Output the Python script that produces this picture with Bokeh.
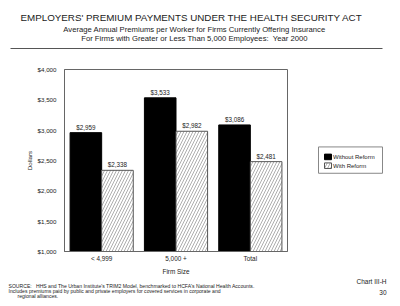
from bokeh.plotting import figure
from bokeh.layouts import column, row
from bokeh.models import (ColumnDataSource, FactorRange, NumeralTickFormatter, FixedTicker,
                          Range1d)
from bokeh.transform import dodge
from bokeh.embed import file_html
from bokeh.resources import INLINE
from bokeh.core.properties import value

# --- data -------------------------------------------------------------
firm_sizes = ["< 4,999", "5,000 +", "Total"]
without_reform = [2959, 3533, 3086]
with_reform = [2338, 2982, 2481]
y_ticks = [1000, 1500, 2000, 2500, 3000, 3500, 4000]
series_names = ["Without Reform", "With Reform"]

title = "EMPLOYERS' PREMIUM PAYMENTS UNDER THE HEALTH SECURITY ACT"
subtitles = ["Average Annual Premiums per Worker for Firms Currently Offering Insurance",
             "For Firms with Greater or Less Than 5,000 Employees:\u00a0 Year 2000"]
source_lines = ["SOURCE:\u00a0\u00a0 HHS and The Urban Institute's TRIM2 Model, benchmarked to HCFA's National Health Accounts.",
                "Includes premiums paid by public and private employers for covered services in corporate and",
                "regional alliances."]
chart_id = "Chart III-H"
page_no = "30"

FONT = "Liberation Sans"
INK = "#222222"
W = 400
HEADER_H, MAIN_H, FOOTER_H = 50, 228, 28
MAIN_W = 300

BLACK_STYLE = dict(fill_color="black", line_color="black")
HATCH_STYLE = dict(fill_color="white", line_color="#555555",
                   hatch_pattern="/", hatch_color="#777777", hatch_weight=0.6, hatch_scale=6)


def money(v):
    return "${:,}".format(v)


def canvas(w, h):
    """A bare figure whose data units are pixels (y grows downward)."""
    f = figure(width=w, height=h, x_range=Range1d(0, w), y_range=Range1d(h, 0),
               output_backend="svg", toolbar_location=None,
               x_axis_location=None, y_axis_location=None, min_border=0)
    f.outline_line_color = None
    f.background_fill_color = "white"
    f.border_fill_color = "white"
    f.grid.visible = False
    return f


def put_text(f, x, y, text, size, align="left", style="normal"):
    f.text(x=[x], y=[y], text=[text], text_font=value(FONT), text_font_size=size,
           text_align=align, text_baseline="middle", text_font_style=style, text_color=INK)


# --- header -----------------------------------------------------------
header = canvas(W, HEADER_H)
put_text(header, 191, 17, title, "9.8px", "center")
put_text(header, 194, 29, subtitles[0], "7.7px", "center")
put_text(header, 194, 37.5, subtitles[1], "7.7px", "center")
header.segment(x0=[10], y0=[48], x1=[382], y1=[48], line_color="#555555", line_width=1)

# --- main chart -------------------------------------------------------
src = ColumnDataSource(dict(
    cat=firm_sizes,
    without=without_reform,
    withr=with_reform,
    without_lbl=[money(v) for v in without_reform],
    with_lbl=[money(v) for v in with_reform],
))

p = figure(width=MAIN_W, height=MAIN_H, x_range=FactorRange(*firm_sizes), y_range=(1000, 4000),
           output_backend="svg", toolbar_location=None,
           min_border_left=64, min_border_right=13, min_border_top=19, min_border_bottom=27)
p.background_fill_color = "white"
p.border_fill_color = "white"
p.outline_line_color = "#666666"
p.xgrid.grid_line_color = None
p.ygrid.grid_line_color = None

bw = 0.425
off = bw / 2
p.vbar(x=dodge("cat", -off, range=p.x_range), top="without", bottom=1000, width=bw,
       source=src, line_width=1, **BLACK_STYLE)
p.vbar(x=dodge("cat", off, range=p.x_range), top="withr", bottom=1000, width=bw,
       source=src, line_width=1, **HATCH_STYLE)

lbl_kw = dict(text_font=value(FONT), text_font_size="6.3px", text_align="center",
              text_baseline="bottom", text_color=INK, y_offset=-2, source=src)
p.text(x=dodge("cat", -off, range=p.x_range), y="without", text="without_lbl", **lbl_kw)
p.text(x=dodge("cat", off, range=p.x_range), y="withr", text="with_lbl", **lbl_kw)

ya = p.yaxis[0]
ya.ticker = FixedTicker(ticks=y_ticks)
ya.formatter = NumeralTickFormatter(format="$0,0")
ya.major_tick_line_color = None
ya.minor_tick_line_color = None
ya.axis_line_color = "#666666"
ya.major_label_text_font = FONT
ya.major_label_text_font_size = "6.2px"
ya.major_label_text_color = INK
ya.major_label_standoff = 2
ya.axis_label = "Dollars"
ya.axis_label_text_font = FONT
ya.axis_label_text_font_style = "normal"
ya.axis_label_text_font_size = "6.2px"
ya.axis_label_text_color = INK
ya.axis_label_standoff = 2

xa = p.xaxis[0]
xa.major_tick_line_color = None
xa.minor_tick_line_color = None
xa.axis_line_color = "#666666"
xa.major_label_text_font = FONT
xa.major_label_text_font_size = "6.4px"
xa.major_label_text_color = INK
xa.major_label_standoff = -3
xa.axis_label = "Firm Size"
xa.axis_label_text_font = FONT
xa.axis_label_text_font_style = "normal"
xa.axis_label_text_font_size = "6.4px"
xa.axis_label_text_color = INK
xa.axis_label_standoff = 3

# --- legend panel -----------------------------------------------------
leg = canvas(W - MAIN_W, MAIN_H)
leg.quad(left=[18], right=[82], top=[97], bottom=[130], fill_color="white",
         line_color="#888888", line_width=1)
leg.quad(left=[24], right=[31], top=[106], bottom=[113], line_width=1, **BLACK_STYLE)
put_text(leg, 32.5, 109.5, series_names[0], "6px")
leg.quad(left=[24], right=[31], top=[117], bottom=[124], line_width=1, **HATCH_STYLE)
put_text(leg, 32.5, 120.5, series_names[1], "6px")

# --- footer -----------------------------------------------------------
footer = canvas(W, FOOTER_H)
put_text(footer, 8, 7, source_lines[0], "5.1px")
put_text(footer, 8, 12.3, source_lines[1], "5.1px")
put_text(footer, 17, 17.6, source_lines[2], "5.1px")
put_text(footer, 386, 2.5, chart_id, "6.5px", "right")
put_text(footer, 386, 13.5, page_no, "6.5px", "right")

page = column(header, row(p, leg, spacing=0), footer, spacing=0)
open("out.html", "w").write(file_html(page, INLINE))
